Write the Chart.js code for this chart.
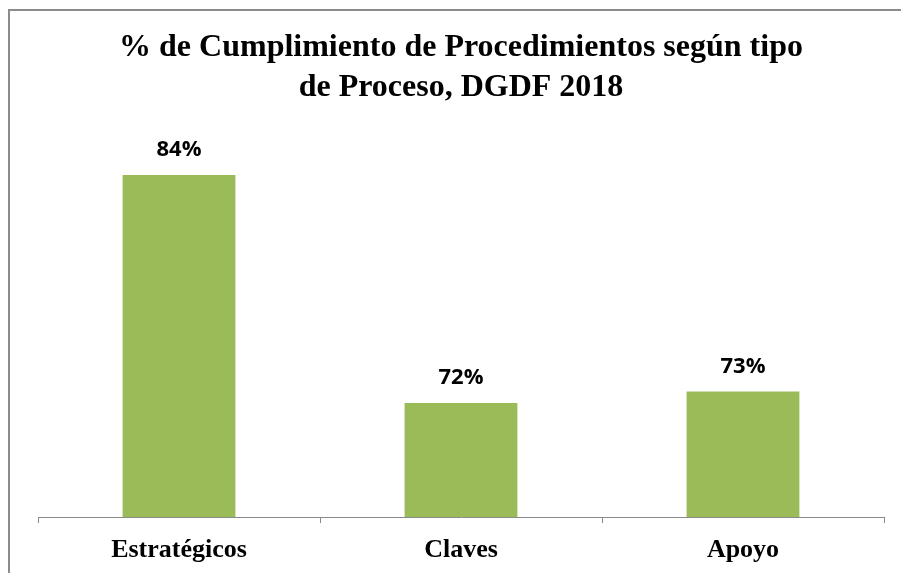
<!DOCTYPE html>
<html>
<head>
<meta charset="utf-8">
<script src="https://cdn.jsdelivr.net/npm/chart.js@4"></script>
<style>
  html, body { margin: 0; padding: 0; background: #fff; }
  #wrap { position: relative; width: 901px; height: 573px; overflow: hidden; }
  #frame { position: absolute; left: 8px; top: 9px; width: 900px; height: 570px;
           border-left: 2px solid #8c8c8c; border-top: 2px solid #8c8c8c; box-sizing: border-box; }
  canvas { position: absolute; left: 0; top: 0; }
</style>
</head>
<body>
<div id="wrap">
  <div id="frame"></div>
  <canvas id="c" width="901" height="573"></canvas>
</div>
<script>
const titleLines = ["% de Cumplimiento de Procedimientos según tipo", "de Proceso, DGDF 2018"];
const categories = ["Estratégicos", "Claves", "Apoyo"];
const values = [84, 72, 72.6];
const yMin = 66;
const yMax = 86;

const valueLabels = {
  id: 'valueLabels',
  afterDatasetsDraw(chart) {
    const ctx = chart.ctx;
    const meta = chart.getDatasetMeta(0);
    ctx.save();
    ctx.font = 'bold 22px "Open Sans", sans-serif';
    ctx.fillStyle = '#000';
    ctx.textAlign = 'center';
    ctx.textBaseline = 'alphabetic';
    meta.data.forEach((bar, i) => {
      ctx.fillText(Math.round(chart.data.datasets[0].data[i]) + '%', bar.x, bar.y - 19);
    });
    ctx.restore();
  }
};

new Chart(document.getElementById('c'), {
  type: 'bar',
  data: {
    labels: categories,
    datasets: [{
      data: values,
      backgroundColor: '#9BBB59',
      borderWidth: 0,
      barPercentage: 0.4,
      categoryPercentage: 1.0
    }]
  },
  options: {
    responsive: false,
    animation: false,
    devicePixelRatio: 1,
    layout: { padding: { left: 38, right: 17, top: 10, bottom: 0 } },
    plugins: {
      legend: { display: false },
      tooltip: { enabled: false },
      title: {
        display: true,
        text: titleLines,
        color: '#000',
        font: { family: '"Liberation Serif", "Times New Roman", serif', size: 32, weight: 'bold', lineHeight: 1.25 },
        padding: { top: 17.5, bottom: 29.5 }
      }
    },
    scales: {
      x: {
        afterFit: (scale) => { scale.height = 56; },
        grid: { display: true, drawOnChartArea: false, drawTicks: true, tickLength: 6, color: '#898989', offset: true },
        border: { display: true, color: '#898989', width: 1 },
        ticks: {
          color: '#000',
          padding: 12,
          font: { family: '"Liberation Serif", "Times New Roman", serif', size: 26, weight: 'bold' }
        }
      },
      y: {
        display: false,
        min: yMin,
        max: yMax
      }
    }
  },
  plugins: [valueLabels]
});
</script>
</body>
</html>
